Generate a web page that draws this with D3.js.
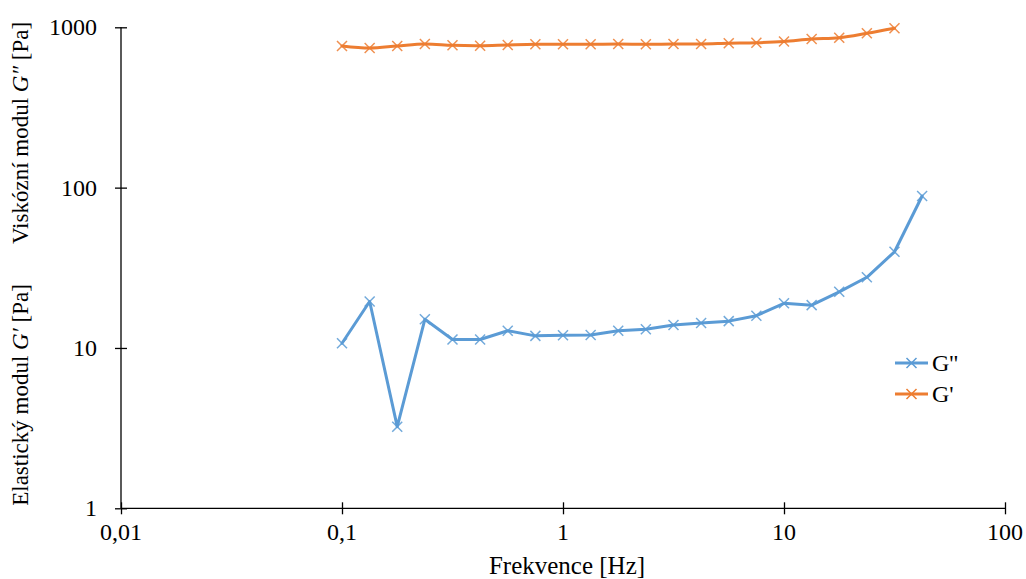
<!DOCTYPE html>
<html>
<head>
<meta charset="utf-8">
<script src="https://cdn.jsdelivr.net/npm/d3@7/dist/d3.min.js"></script>
<style>
  html, body { margin: 0; padding: 0; background: #fff; }
  svg { display: block; }
  svg text { font-family: "Liberation Serif", "Times New Roman", serif; fill: #000; }
</style>
</head>
<body>
<svg id="chart" width="1026" height="579"></svg>
<script>
// ---- data ----
const frequency = [0.1, 0.1334, 0.1778, 0.2371, 0.3162, 0.4217, 0.5623, 0.7499, 1, 1.334, 1.778, 2.371, 3.162, 4.217, 5.623, 7.499, 10, 13.34, 17.78, 23.71, 31.62, 42.17];
const gDoublePrime = [10.7, 19.5, 3.23, 15.1, 11.3, 11.3, 12.8, 11.9, 12.0, 12.05, 12.8, 13.1, 13.9, 14.3, 14.7, 15.9, 19.0, 18.5, 22.4, 27.6, 39.8, 88.7];
const gPrime = [765, 743, 765, 787, 772, 768, 776, 783, 783, 783, 787, 783, 787, 787, 795, 801, 816, 845, 861, 917, 986];
const xTicks = [0.01, 0.1, 1, 10, 100];
const xTickLabels = ["0,01", "0,1", "1", "10", "100"];
const yTicks = [1, 10, 100, 1000];
const yTickLabels = ["1", "10", "100", "1000"];
const seriesNames = ["G''", "G'"];
const seriesColors = ["#5B9BD5", "#ED7D31"];

// ---- layout ----
const svg = d3.select("#chart");
const FONT = "'Liberation Serif', 'Times New Roman', serif";
const mLeft = 121, mRight = 1005, mTop = 27.3, mBottom = 508.3;

const x = d3.scaleLog().domain([0.01, 100]).range([mLeft, mRight]);
const y = d3.scaleLog().domain([1, 1000]).range([mBottom, mTop]);

// axes (lines + ticks from d3 axes, labels drawn explicitly)
const xAxis = d3.axisBottom(x).tickValues(xTicks).tickSizeInner(6).tickSizeOuter(0).tickFormat("");
const gx = svg.append("g").attr("transform", `translate(0,${mBottom})`).call(xAxis);
gx.select(".domain").attr("stroke", "#000").attr("stroke-width", 1.3).attr("d", `M${mLeft},0H${mRight}`);
gx.selectAll(".tick line").attr("stroke", "#000").attr("stroke-width", 1.3).attr("y1", -6).attr("y2", 6);
gx.selectAll(".tick text").remove();

const yAxis = d3.axisLeft(y).tickValues(yTicks).tickSizeInner(6).tickSizeOuter(0).tickFormat("");
const gy = svg.append("g").attr("transform", `translate(${mLeft},0)`).call(yAxis);
gy.select(".domain").attr("stroke", "#000").attr("stroke-width", 1.3).attr("d", `M0,${mBottom}V${mTop}`);
gy.selectAll(".tick line").attr("stroke", "#000").attr("stroke-width", 1.3).attr("x1", -6).attr("x2", 6);
gy.selectAll(".tick text").remove();

svg.append("g").selectAll("text").data(xTicks).join("text")
  .attr("x", d => x(d)).attr("y", mBottom + 32)
  .attr("text-anchor", "middle").attr("font-size", 24).style("font-family", FONT)
  .text((d, i) => xTickLabels[i]);

svg.append("g").selectAll("text").data(yTicks).join("text")
  .attr("x", mLeft - 24).attr("y", d => y(d)).attr("dy", "0.33em")
  .attr("text-anchor", "end").attr("font-size", 24).style("font-family", FONT)
  .text((d, i) => yTickLabels[i]);

// axis titles
svg.append("text").attr("x", 567).attr("y", 574).attr("text-anchor", "middle")
  .attr("font-size", 25).style("font-family", FONT).text("Frekvence [Hz]");

const yt1 = svg.append("text").attr("transform", "translate(28,395) rotate(-90)")
  .attr("text-anchor", "middle").attr("font-size", 23).style("font-family", FONT);
yt1.append("tspan").text("Elastický modul ");
yt1.append("tspan").attr("font-style", "italic").text("G′");
yt1.append("tspan").text(" [Pa]");

const yt2 = svg.append("text").attr("transform", "translate(28,133) rotate(-90)")
  .attr("text-anchor", "middle").attr("font-size", 23).style("font-family", FONT);
yt2.append("tspan").text("Viskózní modul ");
yt2.append("tspan").attr("font-style", "italic").text("G″");
yt2.append("tspan").text(" [Pa]");

// series
function drawSeries(values, color, curve) {
  const pts = values.map((v, i) => [frequency[i], v]);
  const line = d3.line().x(d => x(d[0])).y(d => y(d[1])).curve(curve);
  svg.append("path").datum(pts).attr("d", line)
    .attr("fill", "none").attr("stroke", color).attr("stroke-width", 3)
    .attr("stroke-linejoin", "round").attr("stroke-linecap", "round");
  const s = 5;
  svg.append("g").selectAll("path").data(pts).join("path")
    .attr("d", d => {
      const cx = x(d[0]), cy = y(d[1]);
      return `M${cx - s},${cy - s}L${cx + s},${cy + s}M${cx - s},${cy + s}L${cx + s},${cy - s}`;
    })
    .attr("stroke", color).attr("stroke-width", 1.5).attr("opacity", 0.85).attr("fill", "none");
}
drawSeries(gDoublePrime, seriesColors[0], d3.curveLinear);
drawSeries(gPrime, seriesColors[1], d3.curveCatmullRom.alpha(0.5));

// legend
const legendY = [363, 394];
seriesNames.forEach((name, i) => {
  const g = svg.append("g");
  const ly = legendY[i];
  g.append("line").attr("x1", 895).attr("x2", 928).attr("y1", ly).attr("y2", ly)
    .attr("stroke", seriesColors[i]).attr("stroke-width", 3);
  const cx = 911.5, s = 5;
  g.append("path").attr("d", `M${cx - s},${ly - s}L${cx + s},${ly + s}M${cx - s},${ly + s}L${cx + s},${ly - s}`)
    .attr("stroke", seriesColors[i]).attr("stroke-width", 1.5).attr("fill", "none");
  g.append("text").attr("x", 932).attr("y", ly).attr("dy", "0.35em").attr("font-size", 24)
    .style("font-family", FONT).text(name);
});
</script>
</body>
</html>
